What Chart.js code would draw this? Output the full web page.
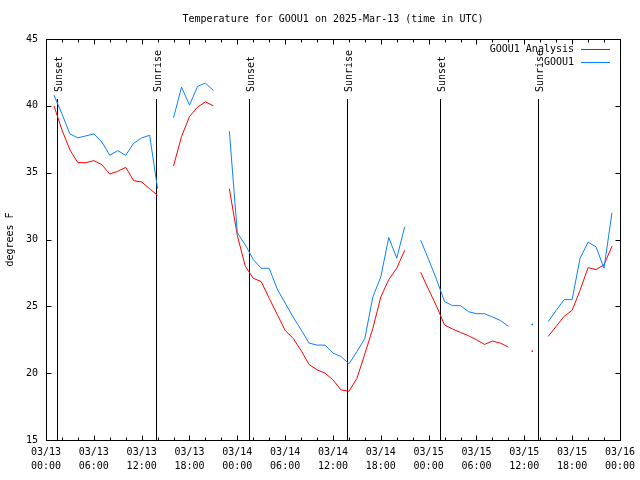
<!DOCTYPE html>
<html><head><meta charset="utf-8">
<script src="https://cdn.jsdelivr.net/npm/chart.js@4/dist/chart.umd.min.js"></script>
<style>html,body{margin:0;padding:0;background:#fff}#wrap{width:640px;height:480px}</style>
</head><body><div id="wrap"><canvas id="c" width="640" height="480"></canvas></div>
<script>
const titleText = 'Temperature for GOOU1 on 2025-Mar-13 (time in UTC)';
const yLabel = 'degrees F';
const seriesNames = ['GOOU1 Analysis', 'GOOU1'];
const hours = [1,2,3,4,5,6,7,8,9,10,11,12,13,14,15,16,17,18,19,20,21,22,23,24,25,26,27,28,29,30,31,32,33,34,35,36,37,38,39,40,41,42,43,44,45,46,47,48,49,50,51,52,53,54,55,56,57,58,59,60,61,62,63,64,65,66,67,68,69,70,71];
const analysis = [40.0,38.2,36.7,35.75,35.75,35.9,35.6,34.9,35.1,35.4,34.4,34.3,33.8,33.3,null,
  35.5,37.7,39.2,39.9,40.3,40.0,null,
  33.8,30.3,28.0,27.1,26.85,25.6,24.4,23.2,22.6,21.7,20.65,20.25,20.0,19.5,18.75,18.65,19.6,21.45,23.35,25.7,27.0,27.85,29.2,null,
  27.55,26.25,25.0,23.6,23.3,23.05,22.8,22.5,22.15,22.4,22.25,21.95,null,null,21.65,null,
  22.75,23.5,24.25,24.7,26.2,27.9,27.75,28.1,29.5];
const observed = [40.8,39.4,37.9,37.6,37.75,37.9,37.3,36.3,36.65,36.3,37.2,37.6,37.8,33.8,null,
  39.1,41.4,40.05,41.45,41.7,41.15,null,
  38.1,30.5,29.6,28.5,27.85,27.85,26.3,25.25,24.2,23.25,22.25,22.1,22.1,21.5,21.25,20.7,21.6,22.6,25.7,27.2,30.15,28.6,30.95,null,
  29.95,28.5,27.0,25.35,25.05,25.05,24.6,24.45,24.45,24.2,23.95,23.5,null,null,23.65,null,
  23.85,24.7,25.5,25.5,28.6,29.8,29.45,27.85,32.0];
const sunTimes = [1.43, 13.77, 25.45, 37.73, 49.47, 61.72];
const sunLabels = ['Sunset','Sunrise','Sunset','Sunrise','Sunset','Sunrise'];
const xTickLabels = [['03/13','00:00'],['03/13','06:00'],['03/13','12:00'],['03/13','18:00'],
  ['03/14','00:00'],['03/14','06:00'],['03/14','12:00'],['03/14','18:00'],
  ['03/15','00:00'],['03/15','06:00'],['03/15','12:00'],['03/15','18:00'],['03/16','00:00']];
const yTickValues = [15,20,25,30,35,40,45];

const FONT = 'DejaVu Sans Mono';
const RED = '#ff0000', BLUE = '#0a80ff';

function isolatedRadius(arr) {
  return ctx => {
    const i = ctx.dataIndex;
    if (arr[i] == null) return 0;
    const prev = i > 0 ? arr[i-1] : null, next = i < arr.length-1 ? arr[i+1] : null;
    return (prev == null && next == null) ? 0.9 : 0;
  };
}

const decor = {
  id: 'decor',
  beforeDatasetsDraw(chart) {
    const {ctx, chartArea: a, scales: {x, y}} = chart;
    ctx.save();
    ctx.strokeStyle = '#000'; ctx.lineWidth = 1;
    const topY = a.top + 60;
    sunTimes.forEach((t, i) => {
      const px = Math.round(x.getPixelForValue(t)) + 0.5;
      ctx.beginPath(); ctx.moveTo(px, a.bottom); ctx.lineTo(px, topY); ctx.stroke();
      ctx.save();
      ctx.translate(px + 4.5, topY - 7);
      ctx.rotate(-Math.PI/2);
      ctx.fillStyle = '#000'; ctx.font = '10px "' + FONT + '"';
      ctx.textAlign = 'left'; ctx.textBaseline = 'alphabetic';
      ctx.fillText(sunLabels[i], 0, 0);
      ctx.restore();
    });
    ctx.restore();
  },
  afterDraw(chart) {
    const {ctx, chartArea: a, scales: {x, y}} = chart;
    ctx.save();
    ctx.strokeStyle = '#000'; ctx.lineWidth = 1;
    const L = Math.round(a.left) + 0.5, R = Math.round(a.right) + 0.5;
    const T = Math.round(a.top) + 0.5, B = Math.round(a.bottom) + 0.5;
    ctx.strokeRect(L, T, R - L, B - T);
    ctx.beginPath();
    for (let h = 0; h <= 72; h += 2) {
      const px = Math.round(x.getPixelForValue(h)) + 0.5;
      const len = h % 6 === 0 ? 5 : 3;
      ctx.moveTo(px, B); ctx.lineTo(px, B - len);
      ctx.moveTo(px, T); ctx.lineTo(px, T + len);
    }
    yTickValues.forEach(v => {
      const py = Math.round(y.getPixelForValue(v)) + 0.5;
      ctx.moveTo(L, py); ctx.lineTo(L + 5, py);
      ctx.moveTo(R, py); ctx.lineTo(R - 5, py);
    });
    ctx.stroke();
    ctx.fillStyle = '#000';
    ctx.font = '10px "' + FONT + '"';
    ctx.textAlign = 'center'; ctx.textBaseline = 'middle';
    ctx.fillText(titleText, (a.left + a.right) / 2, 19);
    ctx.save();
    ctx.translate(10, (a.top + a.bottom) / 2);
    ctx.rotate(-Math.PI/2);
    ctx.fillText(yLabel, 0, 0);
    ctx.restore();
    ctx.textAlign = 'right';
    const cols = [RED, BLUE];
    seriesNames.forEach((n, i) => {
      const ly = 49 + i * 13;
      ctx.fillStyle = '#000';
      ctx.fillText(n, 574, ly);
      ctx.strokeStyle = cols[i];
      ctx.beginPath(); ctx.moveTo(581, ly + 0.5); ctx.lineTo(610, ly + 0.5); ctx.stroke();
    });
    ctx.restore();
  }
};

new Chart(document.getElementById('c'), {
  type: 'line',
  data: {
    datasets: [
      { label: seriesNames[1], data: hours.map((h, i) => ({x: h, y: observed[i]})),
        borderColor: BLUE, backgroundColor: BLUE, borderWidth: 1,
        pointRadius: isolatedRadius(observed), pointBorderWidth: 0, pointHoverRadius: 0,
        spanGaps: false, tension: 0, fill: false },
      { label: seriesNames[0], data: hours.map((h, i) => ({x: h, y: analysis[i]})),
        borderColor: RED, backgroundColor: RED, borderWidth: 1,
        pointRadius: isolatedRadius(analysis), pointBorderWidth: 0, pointHoverRadius: 0,
        spanGaps: false, tension: 0, fill: false }
    ]
  },
  options: {
    responsive: false, animation: false, devicePixelRatio: 1,
    layout: { padding: { left: 0, right: 19, top: 39, bottom: 0 } },
    plugins: { legend: { display: false }, title: { display: false }, tooltip: { enabled: false } },
    events: [],
    scales: {
      x: {
        type: 'linear', min: 0, max: 72,
        grid: { display: false, drawTicks: false }, border: { display: false },
        ticks: { stepSize: 6, autoSkip: false, maxRotation: 0, minRotation: 0, padding: 5,
          color: '#000', font: { family: FONT, size: 10, lineHeight: 1.4 },
          callback: v => xTickLabels[Math.round(v / 6)] },
        afterFit: s => { s.height = 40; }
      },
      y: {
        min: 15, max: 45,
        grid: { display: false, drawTicks: false }, border: { display: false },
        ticks: { stepSize: 5, padding: 8, color: '#000', font: { family: FONT, size: 10 } },
        afterFit: s => { s.width = 46; }
      }
    }
  },
  plugins: [decor]
});
</script>
</body></html>
